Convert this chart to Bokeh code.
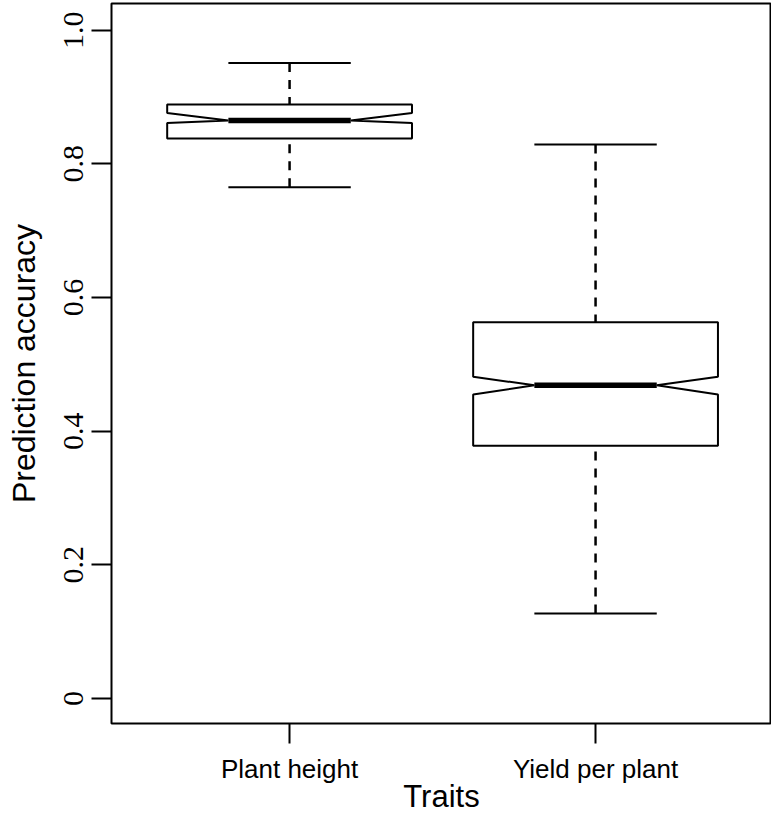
from bokeh.plotting import figure
from bokeh.models import Range1d, FixedTicker
from bokeh.embed import file_html
from bokeh.resources import INLINE

# ---- data ----
traits = ["Plant height", "Yield per plant"]
whisker_low = [0.765, 0.127]
q1 = [0.838, 0.378]
notch_low = [0.861, 0.455]
median = [0.865, 0.4686]
notch_high = [0.876, 0.4815]
q3 = [0.889, 0.563]
whisker_high = [0.951, 0.829]

ytick_values = [0, 0.2, 0.4, 0.6, 0.8, 1.0]
ytick_labels = ["0", "0.2", "0.4", "0.6", "0.8", "1.0"]

pos = [i + 1 for i in range(len(traits))]
hw = 0.4      # box half width
nw = 0.2      # notch / median / cap half width

p = figure(frame_width=660, frame_height=720,
           x_range=Range1d(0.418, 2.575), y_range=Range1d(-0.0375, 1.04),
           output_backend="svg", toolbar_location=None,
           min_border_left=111, min_border_right=0, min_border_top=3,
           min_border_bottom=91)
p.grid.visible = False
p.background_fill_color = "white"
p.border_fill_color = "white"
p.outline_line_color = "black"
p.outline_line_width = 2

# whiskers (dashed), drawn from the whisker end towards the box
p.segment(x0=pos, y0=whisker_high, x1=pos, y1=q3, line_color="black",
          line_width=2.5, line_dash="9 8")
p.segment(x0=pos, y0=whisker_low, x1=pos, y1=q1, line_color="black",
          line_width=2.5, line_dash="9 8")
# caps
p.segment(x0=[x - nw for x in pos], y0=whisker_high, x1=[x + nw for x in pos],
          y1=whisker_high, line_color="black", line_width=2)
p.segment(x0=[x - nw for x in pos], y0=whisker_low, x1=[x + nw for x in pos],
          y1=whisker_low, line_color="black", line_width=2)

# notched boxes
xs, ys = [], []
for x, a, nl, m, nh, b in zip(pos, q1, notch_low, median, notch_high, q3):
    xs.append([x - hw, x - hw, x - nw, x - hw, x - hw,
               x + hw, x + hw, x + nw, x + hw, x + hw])
    ys.append([a, nl, m, nh, b, b, nh, m, nl, a])
p.patches(xs=xs, ys=ys, fill_color="white", line_color="black", line_width=2)

# medians
p.segment(x0=[x - nw for x in pos], y0=median, x1=[x + nw for x in pos],
          y1=median, line_color="black", line_width=5.5)

# axes
p.xaxis.ticker = FixedTicker(ticks=pos)
p.xaxis.major_label_overrides = {x: t for x, t in zip(pos, traits)}
p.xaxis.axis_label = "Traits"
p.yaxis.ticker = FixedTicker(ticks=ytick_values)
p.yaxis.major_label_overrides = {v: t for v, t in zip(ytick_values, ytick_labels)}
p.yaxis.axis_label = "Prediction accuracy"
p.yaxis.major_label_orientation = "vertical"

for ax in (p.xaxis[0], p.yaxis[0]):
    ax.axis_line_color = None
    ax.major_tick_line_color = "black"
    ax.major_tick_line_width = 2
    ax.major_tick_out = 20
    ax.major_tick_in = 0
    ax.minor_tick_line_color = None
    ax.major_label_text_color = "black"
    ax.axis_label_text_color = "black"
    ax.axis_label_text_font_style = "normal"
    ax.axis_label_text_font = "Liberation Sans"

p.xaxis.major_label_text_font = "Liberation Sans"
p.xaxis.major_label_text_font_size = "26px"
p.xaxis.major_label_standoff = 10
p.xaxis.axis_label_text_font_size = "31px"
p.xaxis.axis_label_standoff = -8

p.yaxis.major_label_text_font = "Liberation Serif"
p.yaxis.major_label_text_font_size = "30px"
p.yaxis.major_label_standoff = 8
p.yaxis.axis_label_text_font_size = "32px"
p.yaxis.axis_label_standoff = 20

open("out.html", "w").write(file_html(p, INLINE))
